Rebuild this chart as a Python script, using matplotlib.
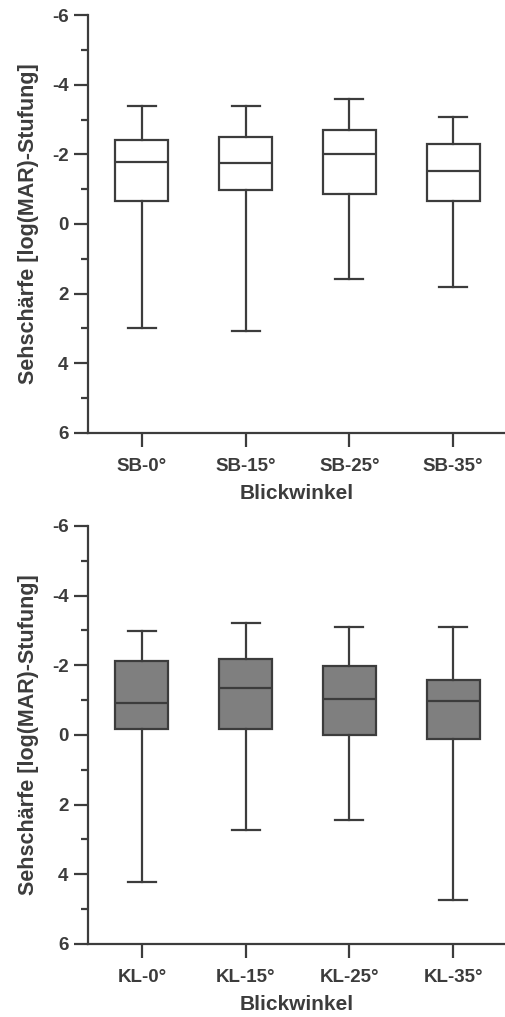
import matplotlib
matplotlib.use('Agg')
import matplotlib.pyplot as plt
from matplotlib.ticker import MultipleLocator

plt.rcParams['font.family'] = ['Liberation Sans', 'DejaVu Sans']
plt.rcParams['font.weight'] = 'bold'

# values (log(MAR) steps, axis is inverted)
sb_labels = ['SB-0°', 'SB-15°', 'SB-25°', 'SB-35°']
sb_whislo = [-3.38, -3.38, -3.59, -3.07]
sb_q1 = [-2.40, -2.51, -2.70, -2.30]
sb_med = [-1.78, -1.75, -2.00, -1.53]
sb_q3 = [-0.67, -0.98, -0.86, -0.67]
sb_whishi = [2.98, 3.08, 1.59, 1.80]

kl_labels = ['KL-0°', 'KL-15°', 'KL-25°', 'KL-35°']
kl_whislo = [-2.99, -3.21, -3.09, -3.09]
kl_q1 = [-2.11, -2.18, -1.99, -1.58]
kl_med = [-0.91, -1.36, -1.03, -0.96]
kl_q3 = [-0.17, -0.17, 0.01, 0.12]
kl_whishi = [4.22, 2.73, 2.44, 4.74]

INK = '#3c3c3c'


def draw_panel(ax, labels, whislo, q1, med, q3, whishi, face):
    stats = []
    for i in range(len(labels)):
        stats.append({'label': labels[i], 'whislo': whislo[i], 'q1': q1[i],
                      'med': med[i], 'q3': q3[i], 'whishi': whishi[i], 'fliers': []})
    ax.bxp(stats, positions=range(len(labels)), widths=0.51, patch_artist=True,
           showfliers=False, capwidths=0.27,
           boxprops=dict(facecolor=face, edgecolor=INK, linewidth=1.6),
           medianprops=dict(color=INK, linewidth=1.6),
           whiskerprops=dict(color=INK, linewidth=1.6),
           capprops=dict(color=INK, linewidth=1.6))
    ax.set_ylim(6, -6)
    ax.set_xlim(-0.52, 3.5)
    ax.yaxis.set_major_locator(MultipleLocator(2))
    ax.yaxis.set_minor_locator(MultipleLocator(1))
    ax.yaxis.set_major_formatter(plt.FuncFormatter(lambda v, p: '%d' % v))
    for s in ['top', 'right']:
        ax.spines[s].set_visible(False)
    for s in ['left', 'bottom']:
        ax.spines[s].set_linewidth(1.6)
        ax.spines[s].set_color(INK)
    ax.tick_params(axis='both', which='major', length=10, width=1.6, color=INK,
                   labelsize=13.5, labelcolor=INK, pad=4)
    ax.tick_params(axis='y', which='minor', length=5, width=1.6, color=INK)
    ax.tick_params(axis='x', pad=8)
    ax.set_ylabel('Sehschärfe [log(MAR)-Stufung]', fontsize=15.5, color=INK,
                  fontweight='bold', labelpad=9)
    ax.set_xlabel('Blickwinkel', fontsize=15, color=INK, fontweight='bold', labelpad=7)


fig = plt.figure(figsize=(5.05, 10.17), dpi=100)
ax1 = fig.add_axes([0.174, 0.5745, 0.826, 0.4105])
ax2 = fig.add_axes([0.174, 0.072, 0.826, 0.4108])

draw_panel(ax1, sb_labels, sb_whislo, sb_q1, sb_med, sb_q3, sb_whishi, 'white')
draw_panel(ax2, kl_labels, kl_whislo, kl_q1, kl_med, kl_q3, kl_whishi, '#7f7f7f')

fig.savefig('out.png', dpi=100)
